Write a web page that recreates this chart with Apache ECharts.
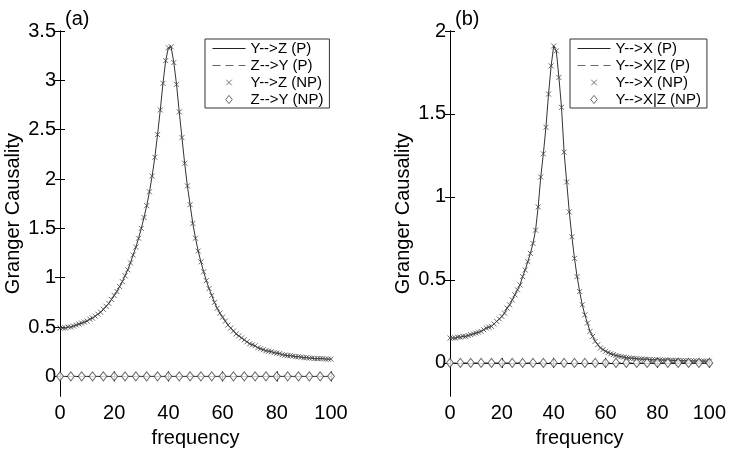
<!DOCTYPE html>
<html>
<head>
<meta charset="utf-8">
<script src="https://cdn.jsdelivr.net/npm/echarts@6/dist/echarts.min.js"></script>
<style>
  html, body { margin: 0; padding: 0; background: #fff; }
  #chart { width: 729px; height: 453px; }
</style>
</head>
<body>
<div id="chart"></div>
<script>
// frequency grid of the NP estimates / P curves
const freq = [0,1,2,3,4,5,6,7,8,9,10,11,12,13,14,15,16,17,18,19,20,21,22,23,24,25,26,27,28,29,30,
  31,32,33,34,35,36,37,38,39,40,41,42,43,44,45,46,47,48,49,50,51,52,53,54,55,56,57,58,59,60,
  61,62,63,64,65,66,67,68,69,70,71,72,73,74,75,76,77,78,79,80,81,82,83,84,85,86,87,88,89,90,
  91,92,93,94,95,96,97,98,99,100];
// diamonds are drawn on a coarser grid
const freqCoarse = [0,4,8,12,16,20,24,28,32,36,40,44,48,52,56,60,64,68,72,76,80,84,88,92,96,100];

// (a) Y-->Z
const yzP = [0.49,0.49,0.49,0.50,0.50,0.51,0.52,0.53,0.54,0.55,0.56,0.58,0.59,0.61,0.63,0.65,0.68,0.71,0.74,0.78,0.82,
  0.86,0.91,0.96,1.02,1.08,1.15,1.23,1.31,1.40,1.50,1.61,1.73,1.87,2.03,2.22,2.45,2.70,2.97,3.20,3.33,
  3.34,3.18,2.96,2.68,2.42,2.16,1.93,1.74,1.55,1.40,1.27,1.16,1.06,0.97,0.89,0.82,0.75,0.69,0.64,0.60,
  0.56,0.52,0.49,0.46,0.43,0.41,0.39,0.37,0.35,0.33,0.32,0.31,0.29,0.28,0.27,0.26,0.255,0.25,0.24,0.235,
  0.23,0.22,0.215,0.21,0.21,0.205,0.20,0.20,0.195,0.19,0.19,0.185,0.185,0.18,0.18,0.18,0.18,0.175,0.175,0.175];
const yzNP = yzP;
const zyP = [0,0,0,0,0,0,0,0,0,0,0,0,0,0,0,0,0,0,0,0,0,0,0,0,0,0];
const zyNP = [0,0,0,0,0,0,0,0,0,0,0,0,0,0,0,0,0,0,0,0,0,0,0,0,0,0];

// (b) Y-->X
const yxP = [0.15,0.15,0.15,0.155,0.155,0.16,0.16,0.165,0.17,0.175,0.18,0.185,0.19,0.20,0.21,0.215,0.22,0.235,0.25,0.265,0.28,
  0.30,0.33,0.35,0.38,0.41,0.44,0.47,0.52,0.56,0.61,0.66,0.72,0.80,0.94,1.12,1.26,1.42,1.62,1.79,1.91,
  1.88,1.72,1.54,1.27,1.09,0.91,0.76,0.63,0.52,0.43,0.35,0.29,0.24,0.19,0.16,0.13,0.11,0.09,0.08,0.07,
  0.062,0.055,0.05,0.045,0.041,0.038,0.035,0.032,0.03,0.028,0.027,0.025,0.024,0.023,0.022,0.021,0.02,0.019,0.019,0.018,
  0.018,0.017,0.017,0.016,0.016,0.015,0.015,0.014,0.014,0.013,0.013,0.013,0.012,0.012,0.012,0.011,0.011,0.011,0.01,0.01];
const yxNP = yxP;
const yxzP = [0,0,0,0,0,0,0,0,0,0,0,0,0,0,0,0,0,0,0,0,0,0,0,0,0,0];
const yxzNP = [0,0,0,0,0,0,0,0,0,0,0,0,0,0,0,0,0,0,0,0,0,0,0,0,0,0];

const xTicks = [0, 20, 40, 60, 80, 100];
const yTicksA = [0, 0.5, 1, 1.5, 2, 2.5, 3, 3.5];
const yTicksB = [0, 0.5, 1, 1.5, 2];

const FONT = 'Liberation Sans, Arial, sans-serif';
const pairs = (xs, ys) => xs.map((x, i) => [x, ys[i]]);
const crossPath = 'path://M0,0L10,10M10,0L0,10';

// legend icons (the leading moves only pad the bounding box)
const iconSolid = 'path://M0,0M33,9M0,4.5L33,4.5';
const iconDash = 'path://M0,0M33,9M0,4.5L8,4.5M13,4.5L21,4.5M26,4.5L33,4.5';
const iconCross = 'path://M-3,-3M13,13M0,0L10,10M10,0L0,10';
const iconDiamond = 'path://M-1,-0.5M9,10.5M4,0L8,5L4,10L0,5Z';

function xAxes(grid) {
  const base = {
    type: 'value', gridIndex: grid, min: 0, max: 100,
    axisLine: { show: true, lineStyle: { color: '#000', width: 1 } },
    axisTick: { show: true, inside: true, length: 5, customValues: xTicks, lineStyle: { color: '#000' } },
    splitLine: { show: false }
  };
  return [
    Object.assign({}, base, {
      position: 'bottom',
      name: 'frequency', nameLocation: 'middle', nameGap: 25,
      nameTextStyle: { fontFamily: FONT, fontSize: 20, color: '#000' },
      axisLabel: { customValues: xTicks, margin: 7, fontFamily: FONT, fontSize: 20, color: '#000' }
    }),
    Object.assign({}, base, { position: 'top', axisLabel: { show: false } })
  ];
}

function yAxes(grid, max, ticks) {
  const base = {
    type: 'value', gridIndex: grid, min: -0.2, max: max,
    axisLine: { show: true, lineStyle: { color: '#000', width: 1 } },
    axisTick: { show: true, inside: true, length: 5, customValues: ticks, lineStyle: { color: '#000' } },
    splitLine: { show: false }
  };
  return [
    Object.assign({}, base, {
      position: 'left',
      name: 'Granger Causality', nameLocation: 'middle', nameGap: 37,
      nameTextStyle: { fontFamily: FONT, fontSize: 20, color: '#000' },
      axisLabel: { customValues: ticks, margin: 4, fontFamily: FONT, fontSize: 20, color: '#000' }
    }),
    Object.assign({}, base, { position: 'right', axisLabel: { show: false } })
  ];
}

function panelSeries(ax, names, solid, dashed, crosses, diamonds) {
  return [
    {
      name: names[0], type: 'line', xAxisIndex: ax, yAxisIndex: ax,
      data: pairs(freq, solid), symbol: 'none', z: 3,
      lineStyle: { color: '#333', width: 1 }, itemStyle: { color: '#333' }
    },
    {
      name: names[1], type: 'line', xAxisIndex: ax, yAxisIndex: ax,
      data: pairs(freqCoarse, dashed), symbol: 'none', z: 2,
      lineStyle: { color: '#555', width: 1, type: [6, 5] }, itemStyle: { color: '#555' }
    },
    {
      name: names[2], type: 'scatter', xAxisIndex: ax, yAxisIndex: ax,
      data: pairs(freq, crosses), symbol: crossPath, symbolSize: 5, z: 4,
      itemStyle: { color: 'transparent', borderColor: '#444', borderWidth: 1 }
    },
    {
      name: names[3], type: 'scatter', xAxisIndex: ax, yAxisIndex: ax,
      data: pairs(freqCoarse, diamonds), symbol: 'diamond', symbolSize: [7, 9], z: 4,
      itemStyle: { color: '#fff', borderColor: '#444', borderWidth: 1 }
    }
  ];
}

const namesA = ['Y-->Z (P)', 'Z-->Y (P)', 'Y-->Z (NP)', 'Z-->Y (NP)'];
const namesB = ['Y-->X (P)', 'Y-->X|Z (P)', 'Y-->X (NP)', 'Y-->X|Z (NP)'];

function legendAt(left, names) {
  const icons = [iconSolid, iconDash, iconCross, iconDiamond];
  const strokes = ['#222', '#666', '#555', '#444'];
  return {
    data: names.map((n, i) => ({
      name: n, icon: icons[i],
      itemStyle: { color: i === 3 ? '#fff' : 'transparent', borderColor: strokes[i], borderWidth: 1 }
    })),
    orient: 'vertical', left: left, top: 39,
    selectedMode: false, backgroundColor: '#fff',
    borderColor: '#333', borderWidth: 1, borderRadius: 0,
    padding: [2, 6, 1, 7], itemGap: 2, itemWidth: 33, itemHeight: 9,
    textStyle: { fontFamily: FONT, fontSize: 15, color: '#000', lineHeight: 15 }
  };
}

const chart = echarts.init(document.getElementById('chart'));
chart.setOption({
  animation: false,
  backgroundColor: '#fff',
  title: [
    { text: '(a)', left: 60, top: 4, textStyle: { fontFamily: FONT, fontSize: 20, fontWeight: 'normal', color: '#000' } },
    { text: '(b)', left: 450, top: 4, textStyle: { fontFamily: FONT, fontSize: 20, fontWeight: 'normal', color: '#000' } }
  ],
  grid: [
    { left: 60, right: 398, top: 31, bottom: 55 },
    { left: 450, right: 19, top: 31, bottom: 55 }
  ],
  legend: [legendAt(205, namesA), legendAt(570, namesB)],
  xAxis: [...xAxes(0), ...xAxes(1)],
  yAxis: [...yAxes(0, 3.5, yTicksA), ...yAxes(1, 2, yTicksB)],
  series: [
    // left panel uses x/y axes 0, right panel axes 2
    ...panelSeries(0, namesA, yzP, zyP, yzNP, zyNP),
    ...panelSeries(2, namesB, yxP, yxzP, yxNP, yxzNP)
  ]
});
</script>
</body>
</html>
